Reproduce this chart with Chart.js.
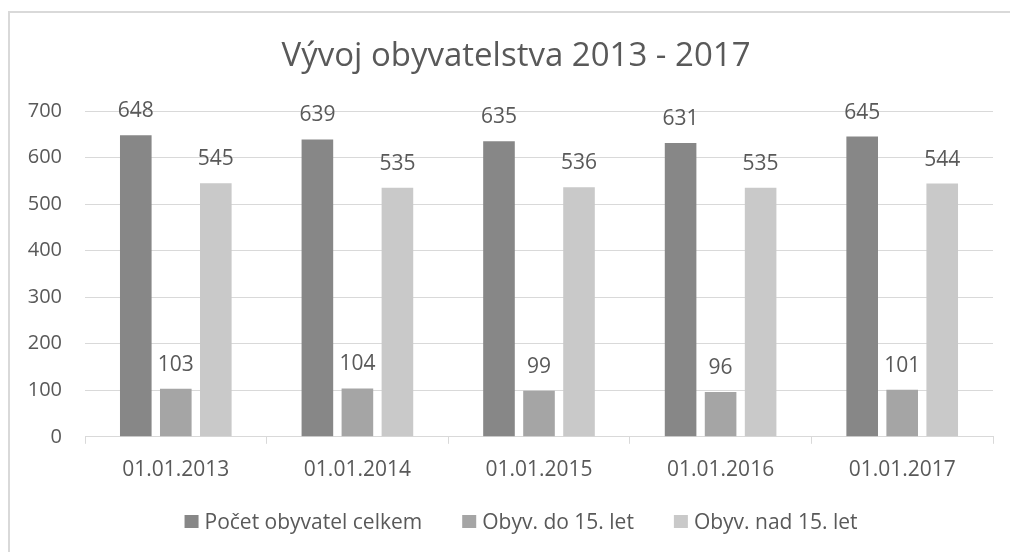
<!DOCTYPE html>
<html>
<head>
<meta charset="utf-8">
<script src="https://cdn.jsdelivr.net/npm/chart.js@4/dist/chart.umd.min.js"></script>
<style>
  html, body { margin: 0; padding: 0; background: #ffffff; }
  #wrap { position: relative; width: 1010px; height: 552px; overflow: hidden; }
  #frame { position: absolute; left: 8px; top: 11px; width: 1100px; height: 700px;
           border-left: 2px solid #d9d9d9; border-top: 2px solid #d9d9d9; box-sizing: border-box; }
  canvas { position: absolute; left: 0; top: 0; }
</style>
</head>
<body>
<div id="wrap">
  <div id="frame"></div>
  <canvas id="c" width="1010" height="552"></canvas>
</div>
<script>
const categories = ["01.01.2013", "01.01.2014", "01.01.2015", "01.01.2016", "01.01.2017"];
const seriesNames = ["Počet obyvatel celkem", "Obyv. do 15. let", "Obyv. nad 15. let"];
const celkem = [648, 639, 635, 631, 645];
const do15 = [103, 104, 99, 96, 101];
const nad15 = [545, 535, 536, 535, 544];
const yTicks = [0, 100, 200, 300, 400, 500, 600, 700];
const titleText = "Vývoj obyvatelstva 2013 - 2017";

const FONT = "'Open Sans', sans-serif";
const TXT = "#595959";

const valueLabels = {
  id: "valueLabels",
  afterDatasetsDraw(chart) {
    const ctx = chart.ctx;
    ctx.save();
    ctx.font = "21px " + FONT;
    ctx.fillStyle = TXT;
    ctx.textAlign = "center";
    ctx.textBaseline = "alphabetic";
    chart.data.datasets.forEach((ds, di) => {
      const meta = chart.getDatasetMeta(di);
      meta.data.forEach((bar, i) => {
        ctx.fillText(String(ds.data[i]), bar.x, bar.y - 18);
      });
    });
    ctx.restore();
  }
};

const titleAndLegend = {
  id: "titleAndLegend",
  afterDraw(chart) {
    const ctx = chart.ctx;
    ctx.save();
    // title
    ctx.font = "33px " + FONT;
    ctx.fillStyle = TXT;
    ctx.textAlign = "center";
    ctx.textBaseline = "alphabetic";
    ctx.fillText(titleText, 516, 66);
    // legend
    ctx.font = "21px " + FONT;
    ctx.textAlign = "left";
    const boxW = 14, boxH = 13, gapText = 6, gapItem = 40;
    const items = chart.data.datasets.map(ds => ({
      text: ds.label, color: ds.backgroundColor, w: ctx.measureText(ds.label).width
    }));
    const total = items.reduce((s, it) => s + boxW + gapText + it.w, 0) + gapItem * (items.length - 1);
    let x = 521 - total / 2;
    items.forEach(it => {
      ctx.fillStyle = it.color;
      ctx.fillRect(x, 515, boxW, boxH);
      ctx.fillStyle = TXT;
      ctx.fillText(it.text, x + boxW + gapText, 529);
      x += boxW + gapText + it.w + gapItem;
    });
    ctx.restore();
  }
};

new Chart(document.getElementById("c"), {
  type: "bar",
  data: {
    labels: categories,
    datasets: [
      { label: seriesNames[0], data: celkem, backgroundColor: "#878787" },
      { label: seriesNames[1], data: do15, backgroundColor: "#a5a5a5" },
      { label: seriesNames[2], data: nad15, backgroundColor: "#c9c9c9" }
    ]
  },
  options: {
    responsive: false,
    animation: false,
    devicePixelRatio: 1,
    layout: { padding: { left: 0, right: 17, top: 111, bottom: 55 } },
    datasets: { bar: { categoryPercentage: 0.661, barPercentage: 0.79 } },
    plugins: {
      title: { display: false },
      legend: { display: false },
      tooltip: { enabled: false }
    },
    scales: {
      x: {
        grid: { offset: true, drawOnChartArea: false, drawTicks: true, tickLength: 7, color: "#d9d9d9" },
        border: { display: true, color: "#d9d9d9", width: 1 },
        ticks: { color: TXT, font: { family: FONT, size: 21 }, padding: 14 }
      },
      y: {
        min: 0, max: 700,
        afterBuildTicks(scale) { scale.ticks = yTicks.map(v => ({ value: v })); },
        afterFit(scale) { scale.width = 85; },
        grid: { color: "#d9d9d9", drawTicks: false },
        border: { display: false },
        ticks: { color: TXT, font: { family: FONT, size: 20 }, padding: 23 }
      }
    }
  },
  plugins: [valueLabels, titleAndLegend]
});
</script>
</body>
</html>
